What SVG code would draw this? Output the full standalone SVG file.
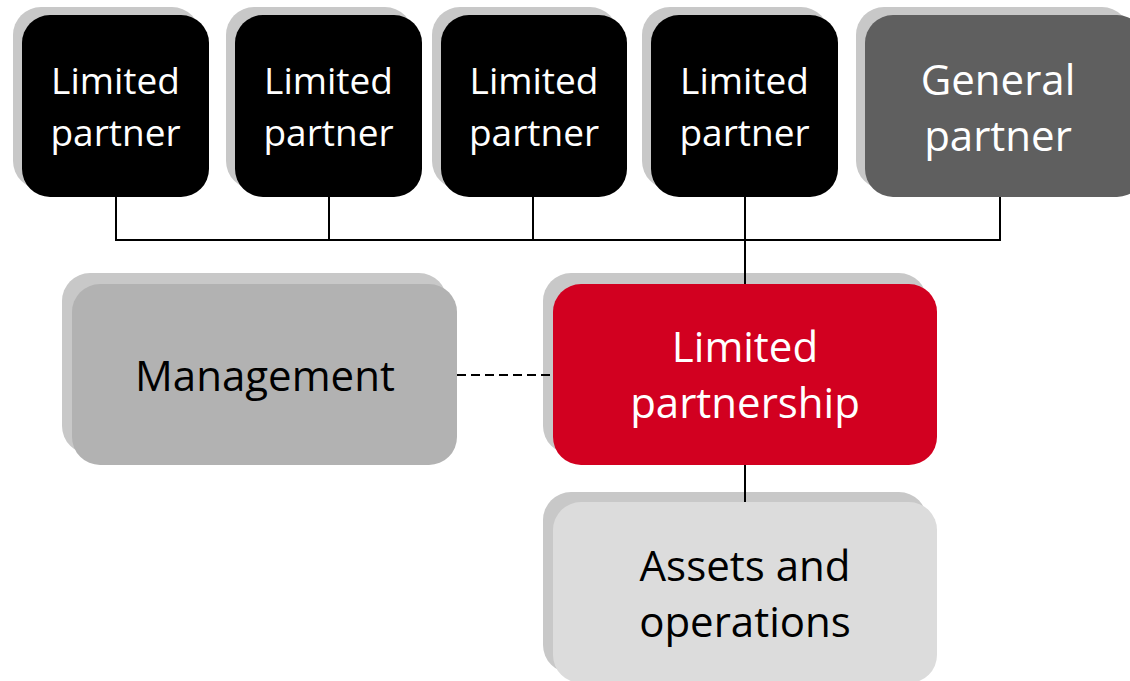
<svg xmlns="http://www.w3.org/2000/svg" width="1130" height="681" viewBox="0 0 1130 681">
  <style>
    .shadow { fill: #c8c8c8; }
    .lp { fill: #000000; }
    .gp { fill: #5f5f5f; }
    .mgmt { fill: #b2b2b2; }
    .red { fill: #d20020; }
    .assets { fill: #dcdcdc; }
    .t { font-family: "Open Sans", "Liberation Sans", sans-serif; text-anchor: middle; }
    .w { fill: #ffffff; }
    .k { fill: #000000; }
    .line { stroke: #000000; stroke-width: 2; fill: none; }
    .dash { stroke: #000000; stroke-width: 2; fill: none; stroke-dasharray: 9 5; }
  </style>

  <!-- shadows sit behind everything -->
  <g id="shadows">
    <rect class="shadow" x="13" y="7" width="187" height="182" rx="28"/>
    <rect class="shadow" x="226" y="7" width="187" height="182" rx="28"/>
    <rect class="shadow" x="432" y="7" width="186" height="182" rx="28"/>
    <rect class="shadow" x="642" y="7" width="187" height="182" rx="28"/>
    <rect class="shadow" x="856" y="7" width="274" height="182" rx="28"/>
    <rect class="shadow" x="62" y="273" width="385" height="181" rx="28"/>
    <rect class="shadow" x="543" y="273" width="384" height="181" rx="28"/>
    <rect class="shadow" x="543" y="492" width="384" height="181" rx="28"/>
  </g>

  <g id="connectors">
    <path class="line" d="M116 197 V240 H1000 V197"/>
    <path class="line" d="M329 197 V240"/>
    <path class="line" d="M533 197 V240"/>
    <path class="line" d="M745 197 V284"/>
    <path class="line" d="M745 465 V502"/>
    <path class="dash" d="M457 375 H553"/>
  </g>

  <g id="lp1">
    <rect class="lp" x="22" y="15" width="187" height="182" rx="28"/>
    <text class="t w" font-size="37" x="115.5" y="94">Limited</text>
    <text class="t w" font-size="37" x="115.5" y="146">partner</text>
  </g>
  <g id="lp2">
    <rect class="lp" x="235" y="15" width="187" height="182" rx="28"/>
    <text class="t w" font-size="37" x="328.5" y="94">Limited</text>
    <text class="t w" font-size="37" x="328.5" y="146">partner</text>
  </g>
  <g id="lp3">
    <rect class="lp" x="441" y="15" width="186" height="182" rx="28"/>
    <text class="t w" font-size="37" x="534" y="94">Limited</text>
    <text class="t w" font-size="37" x="534" y="146">partner</text>
  </g>
  <g id="lp4">
    <rect class="lp" x="651" y="15" width="187" height="182" rx="28"/>
    <text class="t w" font-size="37" x="744.5" y="94">Limited</text>
    <text class="t w" font-size="37" x="744.5" y="146">partner</text>
  </g>
  <g id="gp">
    <rect class="gp" x="865" y="15" width="280" height="182" rx="28"/>
    <text class="t w" font-size="42" x="998" y="95">General</text>
    <text class="t w" font-size="42" x="998" y="151">partner</text>
  </g>

  <g id="management">
    <rect class="mgmt" x="72" y="284" width="385" height="181" rx="28"/>
    <text class="t k" font-size="42" x="265" y="391">Management</text>
  </g>

  <g id="partnership">
    <rect class="red" x="553" y="284" width="384" height="181" rx="28"/>
    <text class="t w" font-size="42" x="745" y="362">Limited</text>
    <text class="t w" font-size="42" x="745" y="418">partnership</text>
  </g>

  <g id="assets">
    <rect class="assets" x="553" y="502" width="384" height="181" rx="28"/>
    <text class="t k" font-size="42" x="745" y="581">Assets and</text>
    <text class="t k" font-size="42" x="745" y="637">operations</text>
  </g>
</svg>
